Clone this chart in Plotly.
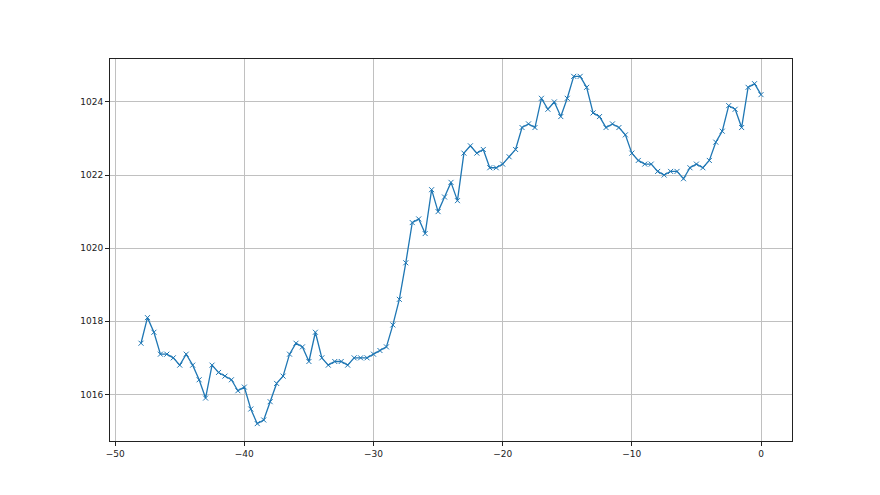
import plotly.graph_objects as go

hours = [h * 0.5 for h in range(-96, 1)]
pressure = [
    1017.4, 1018.1, 1017.7, 1017.1, 1017.1, 1017.0, 1016.8, 1017.1, 1016.8, 1016.4,
    1015.9, 1016.8, 1016.6, 1016.5, 1016.4, 1016.1, 1016.2,
    1015.6, 1015.2, 1015.3, 1015.8, 1016.3, 1016.5, 1017.1, 1017.4, 1017.3, 1016.9,
    1017.7, 1017.0, 1016.8, 1016.9, 1016.9, 1016.8, 1017.0, 1017.0, 1017.0, 1017.1,
    1017.2, 1017.3, 1017.9, 1018.6, 1019.6, 1020.7, 1020.8, 1020.4, 1021.6, 1021.0,
    1021.4, 1021.8, 1021.3, 1022.6, 1022.8, 1022.6, 1022.7, 1022.2, 1022.2, 1022.3,
    1022.5, 1022.7, 1023.3, 1023.4, 1023.3, 1024.1, 1023.8, 1024.0, 1023.6, 1024.1,
    1024.7, 1024.7, 1024.4, 1023.7, 1023.6, 1023.3, 1023.4, 1023.3, 1023.1, 1022.6,
    1022.4, 1022.3, 1022.3, 1022.1, 1022.0, 1022.1, 1022.1, 1021.9, 1022.2, 1022.3,
    1022.2, 1022.4, 1022.9, 1023.2, 1023.9, 1023.8, 1023.3, 1024.4, 1024.5, 1024.2,
]
x_ticks = [-50, -40, -30, -20, -10, 0]
y_ticks = [1016, 1018, 1020, 1022, 1024]

fig = go.Figure()
fig.add_trace(go.Scatter(
    x=hours, y=pressure, mode="lines+markers",
    line=dict(color="#1f77b4", width=1.3),
    marker=dict(symbol="x-thin", size=5, color="#1f77b4",
                line=dict(width=1, color="#1f77b4")),
    showlegend=False,
))

axis_common = dict(
    showgrid=True, gridcolor="#c0c0c0", gridwidth=0.8,
    zeroline=False, showline=True, linecolor="#222222", linewidth=1,
    mirror=True, ticks="outside", ticklen=4, tickcolor="#222222",
    tickfont=dict(family="DejaVu Sans", size=9, color="#222222"),
)
fig.update_xaxes(range=[-50.4, 2.4], tickvals=x_ticks, **axis_common)
fig.update_yaxes(range=[1014.725, 1025.175], tickvals=y_ticks, **axis_common)
fig.update_layout(
    width=880, height=495,
    margin=dict(l=102, r=96, t=51, b=62),
    paper_bgcolor="white", plot_bgcolor="white",
)
fig.write_html("out.html")
